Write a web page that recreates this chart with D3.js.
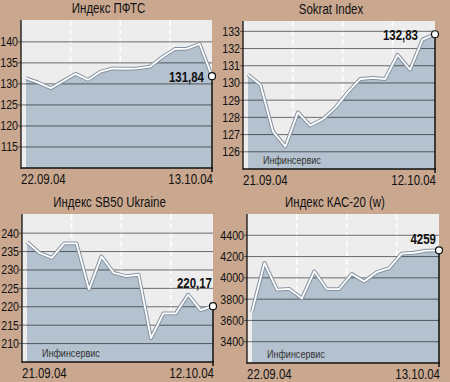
<!DOCTYPE html>
<meta charset="utf-8">
<script src="https://d3js.org/d3.v7.min.js"></script>
<body style="margin: 0; background: #c9a88f;">
<svg id="chart" width="450" height="382"></svg>
</body>

<style>
  text { font-family: "Liberation Sans", Arial, sans-serif; fill: #111; }
  .title { font-size: 14px; }
  .tick-label { font-size: 13px; }
  .date-label { font-size: 14px; }
  .value-label { font-size: 14px; font-weight: bold; }
  .source { font-size: 11px; fill: #333; }
</style>

<script>
// data
var pftsDates = ["22.09.04","23.09.04","24.09.04","27.09.04","28.09.04","29.09.04","30.09.04","01.10.04",
                 "04.10.04","05.10.04","06.10.04","07.10.04","08.10.04","11.10.04","12.10.04","13.10.04"];
var pftsValues = [131.35, 130.3, 128.97, 130.7, 132.4, 130.95, 132.9, 133.7, 133.6, 133.7, 134.1, 136.4, 138.3, 138.4, 139.5, 131.84];
var pftsTicks = [115, 120, 125, 130, 135, 140];

var sokratDates = ["21.09.04","22.09.04","23.09.04","24.09.04","27.09.04","28.09.04","29.09.04","30.09.04",
                   "01.10.04","04.10.04","05.10.04","06.10.04","07.10.04","08.10.04","11.10.04","12.10.04"];
var sokratValues = [130.48, 129.9, 127.19, 126.31, 128.29, 127.52, 127.9, 128.55, 129.45, 130.23, 130.29, 130.23, 131.64, 130.77, 132.52, 132.83];
var sokratTicks = [126, 127, 128, 129, 130, 131, 132, 133];

var sb50Dates = sokratDates;
var sb50Values = [237.6, 234.65, 233.3, 237.2, 237.2, 224.7, 233.7, 229.2, 228.3, 228.7, 211.5, 218.2, 218.2, 223.3, 219.1, 220.17];
var sb50Ticks = [210, 215, 220, 225, 230, 235, 240];

var kasDates = pftsDates;
var kasValues = [3681, 4141, 3889, 3896, 3807, 4062, 3895, 3895, 4037, 3965, 4053, 4091, 4227, 4236, 4255, 4259];
var kasTicks = [3400, 3600, 3800, 4000, 4200, 4400];

var guideIdx = [3.6, 7.6, 11.6];   // white dashed verticals

var fmt = function(v) { return String(v).replace(".", ","); };
var NARROW = 0.82;   // no narrow font installed, squeeze Liberation Sans instead

var svg = d3.select("#chart");

var panels = [
  { title: "Индекс ПФТС", dates: pftsDates, values: pftsValues, ticks: pftsTicks, domain: [110, 145.2],
    box: [21, 20, 212, 168], source: false, lab: [-8, 5.5] },
  { title: "Sokrat Index", dates: sokratDates, values: sokratValues, ticks: sokratTicks, domain: [125, 133.6],
    box: [243, 21, 435, 169], source: true, lab: [-17, 6] },
  { title: "Индекс SB50 Ukraine", dates: sb50Dates, values: sb50Values, ticks: sb50Ticks, domain: [205, 245.2],
    box: [22, 214, 213, 362], source: true, lab: [-1, -18] },
  { title: "Индекс КАС-20 (w)", dates: kasDates, values: kasValues, ticks: kasTicks, domain: [3200, 4600],
    box: [247, 214, 439, 363], source: true, lab: [-3, -6] }
];

panels.forEach(drawPanel);

function label(g, x, y, str, cls, anchor) {
  return g.append("text").attr("class", cls)
    .attr("transform", "translate(" + x + "," + y + ") scale(" + NARROW + ",1)")
    .attr("text-anchor", anchor || "start").text(str);
}

function drawPanel(p) {
  var left = p.box[0], top = p.box[1], right = p.box[2], bottom = p.box[3];
  var n = p.values.length;
  var x = d3.scaleLinear().domain([0, n - 1]).range([left + 5, right]);
  var y = d3.scaleLinear().domain(p.domain).range([bottom, top]);
  var g = svg.append("g");

  label(g, (left + right) / 2 - 8, top - 7, p.title, "title", "middle");

  // plot background
  g.append("rect").attr("x", left).attr("y", top)
    .attr("width", right - left).attr("height", bottom - top).attr("fill", "#ededed");

  g.selectAll(".guide").data(guideIdx).join("line")
    .attr("x1", function(d) { return x(d); }).attr("x2", function(d) { return x(d); })
    .attr("y1", top).attr("y2", bottom)
    .attr("stroke", "#fff").attr("stroke-width", 1.5).attr("stroke-dasharray", "6,3");

  var area = d3.area()
    .x(function(d, i) { return x(i); })
    .y0(bottom).y1(function(d) { return y(d); });
  g.append("path").datum(p.values).attr("d", area).attr("fill", "#b4c1ce");

  // gridlines + ticks
  g.selectAll(".grid").data(p.ticks).join("line")
    .attr("x1", left - 3).attr("x2", right)
    .attr("y1", function(d) { return y(d); }).attr("y2", function(d) { return y(d); })
    .attr("stroke", "rgba(0,0,0,0.55)").attr("stroke-width", 1);
  p.ticks.forEach(function(t) {
    label(g, left - 3, y(t) + 4.5, t, "tick-label", "end");
  });

  var line = d3.line().x(function(d, i) { return x(i); }).y(function(d) { return y(d); });
  g.append("path").datum(p.values).attr("d", line)
    .attr("fill", "none").attr("stroke", "#8593a0").attr("stroke-width", 3.8).attr("stroke-linejoin", "round");
  g.append("path").datum(p.values).attr("d", line)
    .attr("fill", "none").attr("stroke", "#fff").attr("stroke-width", 1.8).attr("stroke-linejoin", "round");

  // axes
  g.append("line").attr("x1", left).attr("x2", left).attr("y1", top).attr("y2", bottom + 1)
    .attr("stroke", "#111").attr("stroke-width", 1.3);
  g.append("line").attr("x1", left).attr("x2", right + 1).attr("y1", bottom).attr("y2", bottom)
    .attr("stroke", "#111").attr("stroke-width", 1.3);
  var last = p.values[n - 1];
  g.append("line").attr("x1", x(n - 1)).attr("x2", x(n - 1)).attr("y1", y(last)).attr("y2", bottom + 4)
    .attr("stroke", "#111").attr("stroke-width", 1.5);
  g.append("circle").attr("cx", x(n - 1)).attr("cy", y(last)).attr("r", 3.5)
    .attr("fill", "#fff").attr("stroke", "#111").attr("stroke-width", 1.2);

  label(g, x(n - 1) + p.lab[0], y(last) + p.lab[1], fmt(last), "value-label", "end");

  label(g, left, bottom + 16, p.dates[0], "date-label");
  label(g, right + 1, bottom + 16, p.dates[n - 1], "date-label", "end");

  if (p.source) {
    label(g, left + 20, bottom - 5, "Инфинсервис", "source");
  }
}
</script>
